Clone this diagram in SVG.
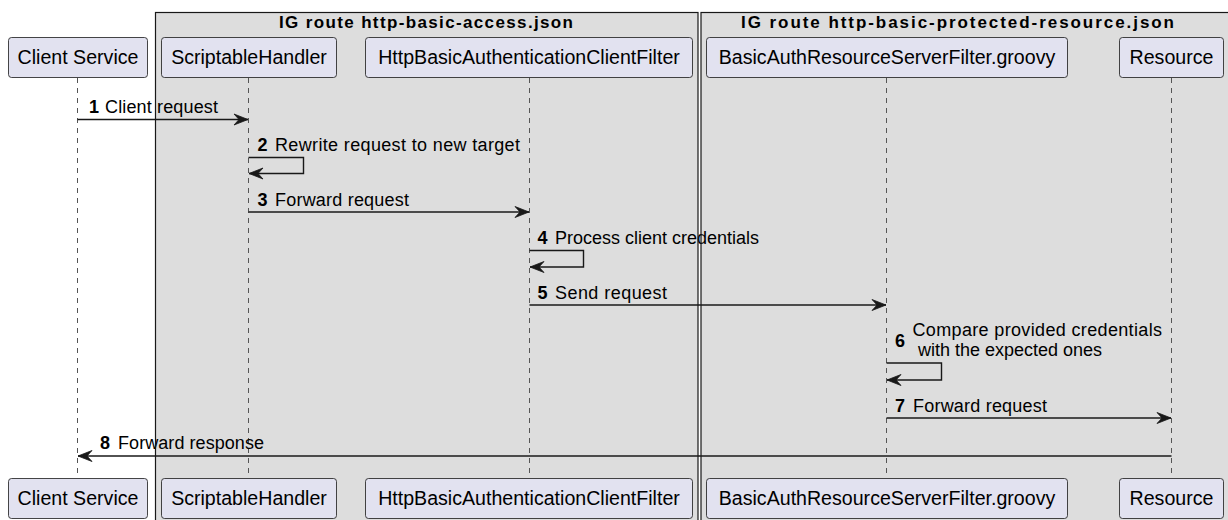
<svg xmlns="http://www.w3.org/2000/svg" width="1228" height="520" viewBox="0 0 1228 520">
<defs>
<style>
.grp{fill:#DDDDDD;stroke:none}
.grpb{fill:none;stroke:#181818;stroke-width:1.2}
.gt{font-family:"Liberation Sans",Arial,sans-serif;font-weight:bold;font-size:17px;fill:#000}
.life{stroke:#555;stroke-width:1;stroke-dasharray:5,5;fill:none}
.pbox{fill:#E2E2F0;stroke:#181818;stroke-width:0.8}
.pt{font-family:"Liberation Sans",Arial,sans-serif;font-size:19.6px;fill:#000;text-anchor:middle}
.msg{stroke:#181818;stroke-width:1.4;fill:none;marker-end:url(#ah)}
.mt{font-family:"Liberation Sans",Arial,sans-serif;font-size:18px;fill:#000}
.mn{font-family:"Liberation Sans",Arial,sans-serif;font-size:18px;font-weight:bold;fill:#000}
</style>
<marker id="ah" markerUnits="userSpaceOnUse" viewBox="-1 -1 16 14" refX="14" refY="6" markerWidth="16" markerHeight="14" orient="auto">
<path d="M0,0.5 L14,6 L0,11.5 L5,6 Z" fill="#181818" stroke="#181818" stroke-width="0.8" stroke-linejoin="miter"/>
</marker>
</defs>
<rect width="1228" height="520" fill="#FFFFFF"/>
<g id="group-access">
<rect class="grp" x="155" y="12" width="543" height="515"/>
</g>
<g id="group-protected">
<rect class="grp" x="701" y="12" width="530" height="515"/>
</g>
<g id="lifelines">
<line class="life" x1="77.5" y1="78" x2="77.5" y2="478"/>
<line class="life" x1="248.5" y1="78" x2="248.5" y2="478"/>
<line class="life" x1="529.5" y1="78" x2="529.5" y2="478"/>
<line class="life" x1="886.5" y1="78" x2="886.5" y2="478"/>
<line class="life" x1="1171.5" y1="78" x2="1171.5" y2="478"/>
</g>
<g id="p-client">
<rect class="pbox" x="8.5" y="37.5" width="139" height="40" rx="3"/>
<text class="pt" x="78" y="64">Client Service</text>
<rect class="pbox" x="8.5" y="478.5" width="139" height="40" rx="3"/>
<text class="pt" x="78" y="505">Client Service</text>
</g>
<g id="p-scriptable">
<rect class="pbox" x="161.5" y="37.5" width="175" height="40" rx="3"/>
<text class="pt" x="249" y="64">ScriptableHandler</text>
<rect class="pbox" x="161.5" y="478.5" width="175" height="40" rx="3"/>
<text class="pt" x="249" y="505">ScriptableHandler</text>
</g>
<g id="p-httpbasic">
<rect class="pbox" x="365.5" y="37.5" width="327" height="40" rx="3"/>
<text class="pt" x="529" y="64">HttpBasicAuthenticationClientFilter</text>
<rect class="pbox" x="365.5" y="478.5" width="327" height="40" rx="3"/>
<text class="pt" x="529" y="505">HttpBasicAuthenticationClientFilter</text>
</g>
<g id="p-basicauth">
<rect class="pbox" x="706.5" y="37.5" width="361" height="40" rx="3"/>
<text class="pt" x="887" y="64">BasicAuthResourceServerFilter.groovy</text>
<rect class="pbox" x="706.5" y="478.5" width="361" height="40" rx="3"/>
<text class="pt" x="887" y="505">BasicAuthResourceServerFilter.groovy</text>
</g>
<g id="p-resource">
<rect class="pbox" x="1119.5" y="37.5" width="104" height="40" rx="3"/>
<text class="pt" x="1171.5" y="64">Resource</text>
<rect class="pbox" x="1119.5" y="478.5" width="104" height="40" rx="3"/>
<text class="pt" x="1171.5" y="505">Resource</text>
</g>
<g id="connectors">
<line class="msg" x1="77.5" y1="119.5" x2="248" y2="119.5"/>
<polyline class="msg" points="248.5,157.5 303.5,157.5 303.5,173.5 249,173.5"/>
<line class="msg" x1="248.5" y1="212" x2="529" y2="212"/>
<polyline class="msg" points="529.5,250.5 583.5,250.5 583.5,267 530,267"/>
<line class="msg" x1="529.5" y1="305" x2="886" y2="305"/>
<polyline class="msg" points="886.5,363 941.5,363 941.5,380 887,380"/>
<line class="msg" x1="886.5" y1="418" x2="1171" y2="418"/>
<line class="msg" x1="1171.5" y1="456" x2="78" y2="456"/>
</g>
<g id="labels">
<text class="mn" x="89" y="113">1</text><text class="mt" x="105" y="113" textLength="113" lengthAdjust="spacing">Client request</text>
<text class="mn" x="257.5" y="151">2</text><text class="mt" x="275" y="151" textLength="245" lengthAdjust="spacing">Rewrite request to new target</text>
<text class="mn" x="257.5" y="206">3</text><text class="mt" x="275" y="206" textLength="134" lengthAdjust="spacing">Forward request</text>
<text class="mn" x="537.5" y="244">4</text><text class="mt" x="555" y="244">Process client credentials</text>
<text class="mn" x="537.5" y="299">5</text><text class="mt" x="555" y="299" textLength="112" lengthAdjust="spacing">Send request</text>
<text class="mn" x="895" y="347">6</text>
<text class="mt" x="912.5" y="336" textLength="249.5" lengthAdjust="spacing">Compare provided credentials</text>
<text class="mt" x="918" y="356">with the expected ones</text>
<text class="mn" x="895" y="412">7</text><text class="mt" x="913" y="412" textLength="134" lengthAdjust="spacing">Forward request</text>
<text class="mn" x="100" y="449">8</text><text class="mt" x="118" y="449" textLength="146" lengthAdjust="spacing">Forward response</text>
</g>
<g id="group-frames">
<rect class="grpb" x="155.5" y="12.5" width="542.5" height="515"/>
<text class="gt" x="279" y="28" textLength="294" lengthAdjust="spacing">IG route http-basic-access.json</text>
<rect class="grpb" x="701" y="12.5" width="530" height="515"/>
<text class="gt" x="741" y="28" textLength="433" lengthAdjust="spacing">IG route http-basic-protected-resource.json</text>
</g>
</svg>
